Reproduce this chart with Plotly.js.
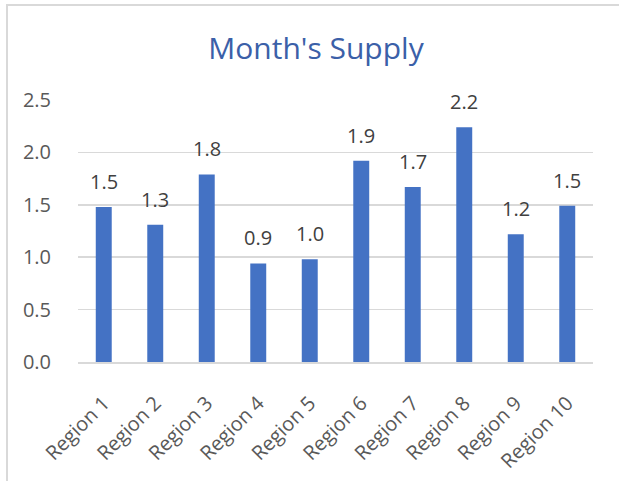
<!DOCTYPE html>
<html>
<head>
<meta charset="utf-8">
<script src="https://cdn.plot.ly/plotly-3.0.1.min.js"></script>
<style>
html,body{margin:0;padding:0;overflow:hidden;background:#fff;}
#wrap{position:relative;width:619px;height:481px;}
#chart{position:absolute;left:0;top:0;width:619px;height:481px;}
#frame{position:absolute;left:6px;top:4px;width:800px;height:800px;border-top:2px solid #d9d9d9;border-left:2px solid #d9d9d9;pointer-events:none;}
</style>
</head>
<body>
<div id="wrap"><div id="chart"></div><div id="frame"></div></div>
<script>
const categories = ["Region 1","Region 2","Region 3","Region 4","Region 5","Region 6","Region 7","Region 8","Region 9","Region 10"];
const supply = [1.48, 1.31, 1.79, 0.94, 0.98, 1.92, 1.67, 2.24, 1.22, 1.49];
const yTicks = [0, 0.5, 1, 1.5, 2, 2.5];
const yTickLabels = ["0.0","0.5","1.0","1.5","2.0","2.5"];
const titleText = "Month's Supply";

const font = "Open Sans, Noto Sans, sans-serif";

const annotations = categories.map((c, i) => ({
  x: c, y: supply[i], xref: 'x', yref: 'y',
  text: supply[i].toFixed(1),
  showarrow: false, yanchor: 'bottom', xanchor: 'center',
  yshift: 10,
  font: {family: font, size: 20, color: '#404040'}
}));

const trace = {
  type: 'bar',
  x: categories,
  y: supply,
  marker: {color: '#4472C4'},
  hoverinfo: 'skip'
};

const layout = {
  width: 619, height: 481,
  margin: {l: 78, r: 26, t: 100, b: 119, pad: 0},
  paper_bgcolor: '#ffffff',
  plot_bgcolor: '#ffffff',
  showlegend: false,
  bargap: 0.69,
  title: {
    text: titleText,
    font: {family: font, size: 30, color: '#3B60A8'},
    x: 316/619, xanchor: 'center', xref: 'container',
    y: 1 - 48/481, yanchor: 'middle', yref: 'container'
  },
  xaxis: {
    type: 'category',
    tickangle: -45,
    tickfont: {family: font, size: 20, color: '#595959'},
    showgrid: false,
    showline: true, linecolor: '#d9d9d9', linewidth: 1.5,
    ticks: 'outside', ticklen: 20, tickcolor: 'rgba(0,0,0,0)',
    zeroline: false
  },
  yaxis: {
    range: [0, 2.5],
    tickvals: yTicks,
    ticktext: yTickLabels,
    tickfont: {family: font, size: 20, color: '#595959'},
    showgrid: true, gridcolor: '#d9d9d9', gridwidth: 1.5,
    zeroline: false, showline: false,
    ticks: 'outside', ticklen: 22, tickcolor: 'rgba(0,0,0,0)'
  },
  annotations: annotations
};

Plotly.newPlot('chart', [trace], layout, {displayModeBar: false, staticPlot: true});
</script>
</body>
</html>
